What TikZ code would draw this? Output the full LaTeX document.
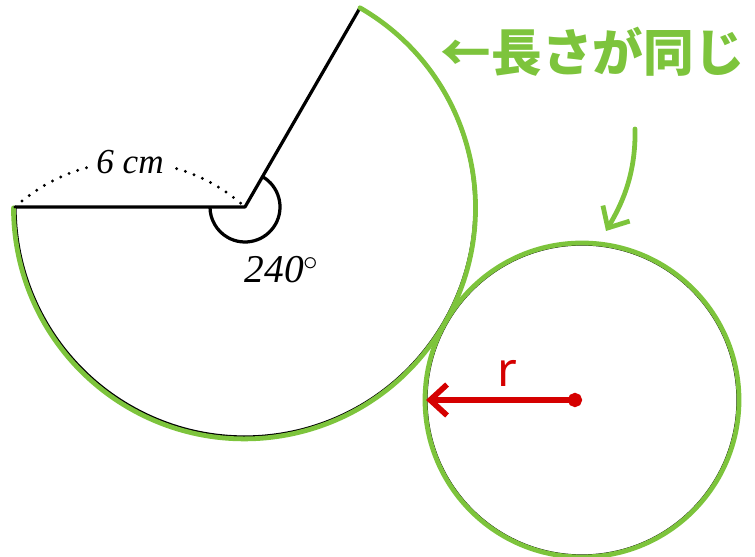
\documentclass[tikz,border=0pt]{standalone}
\usepackage{fontspec}
\setmainfont{Liberation Serif}
\newfontfamily\jpfont{Noto Sans CJK JP}
\newfontfamily\handfont{Noto Sans}
\usetikzlibrary{arrows.meta,positioning,calc}
\definecolor{markgreen}{HTML}{7DC43C}
\definecolor{markred}{HTML}{D50000}
\tikzset{
  outline/.style={
    draw=black,
    line width=2.3pt,
    line join=round
  },
  greenline/.style={
    draw=markgreen,
    line width=3.4pt,
    line cap=round,
    line join=round
  },
  redline/.style={
    draw=markred,
    line width=4pt,
    line cap=round
  },
  dimdots/.style={
    line width=2.3pt,
    line cap=round,
    dash pattern=on 0pt off 6.5pt
  },
  labeltext/.style={
    font=\fontsize{25}{28}\selectfont\itshape,
    inner sep=6pt
  }
}

\begin{document}
\begin{tikzpicture}[x=0.025cm, y=0.025cm]
\useasboundingbox (0,0) rectangle (755,557);
% sector
\coordinate (centre) at (245,350);
\coordinate (left) at (15,350);
\coordinate (top) at ($(centre)+(60:230)$);
\draw[outline] (left) -- (centre) -- (top) arc[start angle=60, end angle=-180, radius=230];
\draw[greenline] (top) arc[start angle=60, end angle=-180, radius=231];
\draw[outline] ($(centre)+(60:35)$) arc[start angle=60, end angle=-180, radius=35];
\draw[dimdots] (left) to[bend left=42] node[labeltext, fill=white] (len) {6 cm} (centre);
\node[labeltext, font=\fontsize{28}{30}\selectfont\itshape] (ang) at (282,287) {240$^{\circ}$};
% circle
\coordinate (ccentre) at (582,157);
\coordinate (cleft) at ($(ccentre)+(180:156)$);
\draw[outline] (ccentre) circle[radius=156];
\draw[greenline] (ccentre) circle[radius=157];
\draw[redline, {Straight Barb[length=12pt,width=22pt]}-{Circle[length=10pt]}] (cleft) -- (ccentre);
\node[font=\handfont\bfseries\fontsize{34}{40}\selectfont, text=markred] (rlabel) at (507,184) {r};
% note
\node[font=\jpfont\bfseries\fontsize{36}{40}\selectfont, text=markgreen, anchor=west] (same) at (436,505) {←長さが同じ};
\coordinate (gstart) at (635,428);
\coordinate (gtip) at (606,326);
\draw[greenline, -{Straight Barb[length=12pt,width=22pt]}] (gstart) .. controls (636,380) and (620,350) .. (gtip);
\end{tikzpicture}
\end{document}
